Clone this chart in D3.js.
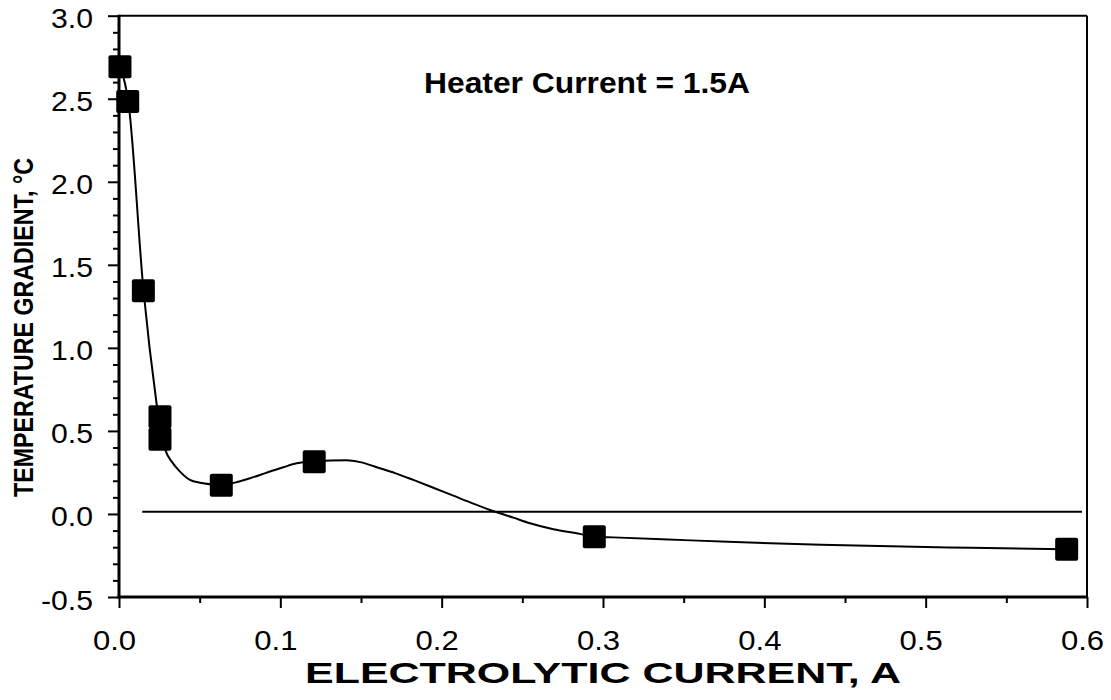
<!DOCTYPE html>
<html>
<head>
<meta charset="utf-8">
<script src="https://cdn.jsdelivr.net/npm/d3@7/dist/d3.min.js"></script>
<style>
  html, body { margin: 0; padding: 0; background: #fff; }
  svg { display: block; font-family: "Liberation Sans", Arial, sans-serif; }
</style>
</head>
<body>
<svg id="chart" width="1111" height="700"></svg>
<script>
// Measured points: electrolytic current (A) vs temperature gradient (°C)
const measuredCurrent  = [0.0006, 0.0054, 0.0151, 0.0254, 0.0254, 0.0634, 0.121, 0.2946, 0.5874];
const measuredGradient = [2.693, 2.484, 1.344, 0.586, 0.450, 0.173, 0.315, -0.137, -0.213];

// Smoothed fit curve through the measurements
const fitCurrent  = [0.0006, 0.0058, 0.0152, 0.0234, 0.0254, 0.0291, 0.0327, 0.0378, 0.0440, 0.0502,
                     0.0632, 0.0739, 0.0812, 0.0916, 0.1018, 0.1101, 0.1211, 0.1411, 0.1494, 0.1618,
                     0.1711, 0.1824, 0.1948, 0.2072, 0.2196, 0.2300, 0.2444, 0.2548, 0.2692, 0.2857,
                     0.2946, 0.3064, 0.3366, 0.3775, 0.4351, 0.5281, 0.5874];
const fitGradient = [2.693, 2.482, 1.343, 0.656, 0.518, 0.375, 0.315, 0.255, 0.205, 0.188,
                     0.175, 0.194, 0.215, 0.249, 0.281, 0.305, 0.318, 0.323, 0.312, 0.275,
                     0.246, 0.205, 0.158, 0.110, 0.062, 0.024, -0.022, -0.056, -0.092, -0.120,
                     -0.137, -0.141, -0.152, -0.168, -0.186, -0.204, -0.213];

// Reference level line
const refCurrent  = [0.0144, 0.5969];
const refGradient = [0.014, 0.014];

// Axis ticks
const xMajorTicks = [0, 0.1, 0.2, 0.3, 0.4, 0.5, 0.6];
const xMinorTicks = [0.05, 0.15, 0.25, 0.35, 0.45, 0.55];
const yMajorTicks = [-0.5, 0, 0.5, 1.0, 1.5, 2.0, 2.5, 3.0];
const yMinorTicks = d3.range(-4, 30).map(i => i / 10).filter(v => Math.abs(v * 2 - Math.round(v * 2)) > 1e-6);

const titleText = "Heater Current = 1.5A";
const xAxisTitle = "ELECTROLYTIC CURRENT, A";
const yAxisTitle = "TEMPERATURE GRADIENT, °C";

const svg = d3.select("#chart");
const L = 119, R = 1087, T = 15.7, B = 597;

const x = d3.scaleLinear().domain([0, 0.6]).range([L, R]);
const y = d3.scaleLinear().domain([-0.5, 3.0]).range([B, T]);
const fmt = d => d.toFixed(1);

// Minor ticks
const xMinorAxis = d3.axisBottom(x).tickValues(xMinorTicks).tickSize(6).tickFormat("");
const yMinorAxis = d3.axisLeft(y).tickValues(yMinorTicks).tickSize(6).tickFormat("");
svg.append("g").attr("transform", `translate(0,${B})`).call(xMinorAxis);
svg.append("g").attr("transform", `translate(${L},0)`).call(yMinorAxis);

// Major ticks with labels
const xAxis = d3.axisBottom(x).tickValues(xMajorTicks).tickSize(11).tickFormat(fmt);
const yAxis = d3.axisLeft(y).tickValues(yMajorTicks).tickSize(11).tickFormat(fmt);
const gx = svg.append("g").attr("transform", `translate(0,${B})`).call(xAxis);
const gy = svg.append("g").attr("transform", `translate(${L},0)`).call(yAxis);

svg.selectAll(".domain").remove();
svg.selectAll(".tick line").attr("stroke", "#000").attr("stroke-width", 2);

gx.selectAll(".tick text")
  .attr("font-size", 27).attr("fill", "#000")
  .attr("y", null).attr("dy", null).attr("x", null)
  .attr("transform", "translate(-5,53) scale(1.15,1)");
gy.selectAll(".tick text")
  .attr("font-size", 27).attr("fill", "#000")
  .attr("x", null).attr("dy", null)
  .attr("text-anchor", "end")
  .attr("transform", "translate(-26,12) scale(1.12,1)");

// Frame
svg.append("line").attr("x1", L).attr("x2", R).attr("y1", T).attr("y2", T).attr("stroke", "#000").attr("stroke-width", 2);
svg.append("line").attr("x1", R).attr("x2", R).attr("y1", T).attr("y2", B).attr("stroke", "#000").attr("stroke-width", 2);
svg.append("line").attr("x1", L).attr("x2", L).attr("y1", T - 1).attr("y2", B + 1.5).attr("stroke", "#000").attr("stroke-width", 3);
svg.append("line").attr("x1", L - 1.5).attr("x2", R + 1).attr("y1", B).attr("y2", B).attr("stroke", "#000").attr("stroke-width", 3);

// Reference line
svg.append("path")
  .datum(d3.zip(refCurrent, refGradient))
  .attr("fill", "none").attr("stroke", "#000").attr("stroke-width", 2)
  .attr("d", d3.line().x(d => x(d[0])).y(d => y(d[1])));

// Fit curve
svg.append("path")
  .datum(d3.zip(fitCurrent, fitGradient))
  .attr("fill", "none").attr("stroke", "#000").attr("stroke-width", 2)
  .attr("d", d3.line().x(d => x(d[0])).y(d => y(d[1])).curve(d3.curveMonotoneX));

// Markers
const ms = 23;
svg.append("g").selectAll("rect")
  .data(d3.zip(measuredCurrent, measuredGradient))
  .join("rect")
  .attr("x", d => x(d[0]) - ms / 2).attr("y", d => y(d[1]) - ms / 2)
  .attr("width", ms).attr("height", ms).attr("rx", 2)
  .attr("fill", "#000");

// Annotation
svg.append("text")
  .attr("x", 424).attr("y", 93)
  .attr("font-size", 29).attr("font-weight", "bold")
  .attr("textLength", 326).attr("lengthAdjust", "spacingAndGlyphs")
  .text(titleText);

// Axis titles
svg.append("text")
  .attr("x", 603).attr("y", 683)
  .attr("text-anchor", "middle")
  .attr("font-size", 30).attr("font-weight", "bold")
  .attr("textLength", 596).attr("lengthAdjust", "spacingAndGlyphs")
  .text(xAxisTitle);

svg.append("text")
  .attr("transform", "translate(33,327.5) rotate(-90)")
  .attr("text-anchor", "middle")
  .attr("font-size", 28).attr("font-weight", "bold")
  .attr("textLength", 339).attr("lengthAdjust", "spacingAndGlyphs")
  .text(yAxisTitle);
</script>
</body>
</html>
